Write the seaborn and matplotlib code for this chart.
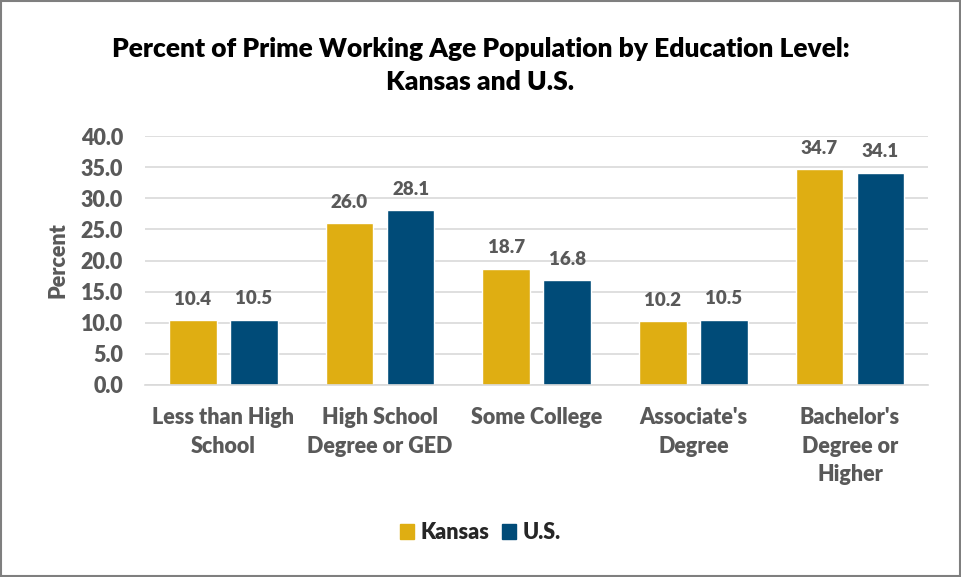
import matplotlib
matplotlib.use("Agg")
import matplotlib.pyplot as plt
from matplotlib.patches import Rectangle
import seaborn as sns
import pandas as pd

# Data
categories = ["Less than High\nSchool", "High School\nDegree or GED", "Some College",
              "Associate's\nDegree", "Bachelor's\nDegree or\nHigher"]
kansas = [10.4, 26.0, 18.7, 10.2, 34.7]
us = [10.5, 28.1, 16.8, 10.5, 34.1]
series_names = ["Kansas", "U.S."]
yticks = [0, 5, 10, 15, 20, 25, 30, 35, 40]

colors = {"Kansas": "#DFAE12", "U.S.": "#004B78"}
gray = "#595959"

df = pd.DataFrame({
    "Category": categories * 2,
    "Series": [series_names[0]] * len(kansas) + [series_names[1]] * len(us),
    "Value": kansas + us,
})

sns.set_style("white")
plt.rcParams["font.family"] = ["Lato", "DejaVu Sans"]
plt.rcParams["font.weight"] = "bold"

fig = plt.figure(figsize=(9.61, 5.77), dpi=100)
ax = fig.add_axes([0.151, 0.333, 0.815, 0.431])

sns.barplot(data=df, x="Category", y="Value", hue="Series", palette=colors,
            width=0.78, gap=0.22, ax=ax, legend=True, saturation=1)

# Value labels
for cont in ax.containers:
    ax.bar_label(cont, fmt="%.1f", padding=9, fontsize=13.5, color=gray, fontweight="heavy")

ax.set_ylim(0, 40)
ax.set_yticks(yticks)
ax.set_yticklabels([f"{v:.1f}" for v in yticks])
ax.set_xlim(-0.5, len(categories) - 0.5)
ax.yaxis.grid(True, color="#D9D9D9", linewidth=1.2)
ax.set_axisbelow(True)
for s in ["top", "right", "left"]:
    ax.spines[s].set_visible(False)
ax.spines["bottom"].set_color("#D9D9D9")
ax.spines["bottom"].set_linewidth(1.2)
ax.tick_params(axis="x", length=0, labelsize=15.5, labelcolor=gray, pad=16)
ax.tick_params(axis="y", length=0, labelsize=15.5, labelcolor=gray, pad=16)
plt.setp(ax.get_xticklabels() + ax.get_yticklabels(), fontweight="heavy")
plt.setp(ax.get_xticklabels(), linespacing=1.45)
ax.set_xlabel("")
ax.set_ylabel("Percent", fontsize=15.5, color=gray, fontweight="heavy", labelpad=9)

ax.legend_.remove()
handles = [Rectangle((0, 0), 1, 1, color=colors[n]) for n in series_names]
fig.legend(handles, series_names, loc="center", bbox_to_anchor=(0.5, 0.077), ncol=2,
           frameon=False, handlelength=0.65, handleheight=0.65,
           handletextpad=0.3, columnspacing=0.6,
           prop={"weight": "heavy", "size": 15.5})

fig.suptitle("Percent of Prime Working Age Population by Education Level:\nKansas and U.S.",
             x=0.5, y=0.936, fontsize=19, fontweight="heavy", color="black", linespacing=1.45)

# Outer border
fig.patches.append(Rectangle((0.001, 0.002), 0.998, 0.996, transform=fig.transFigure,
                             fill=False, edgecolor="#7F7F7F", linewidth=1.5))

fig.savefig("out.png", dpi=100)
